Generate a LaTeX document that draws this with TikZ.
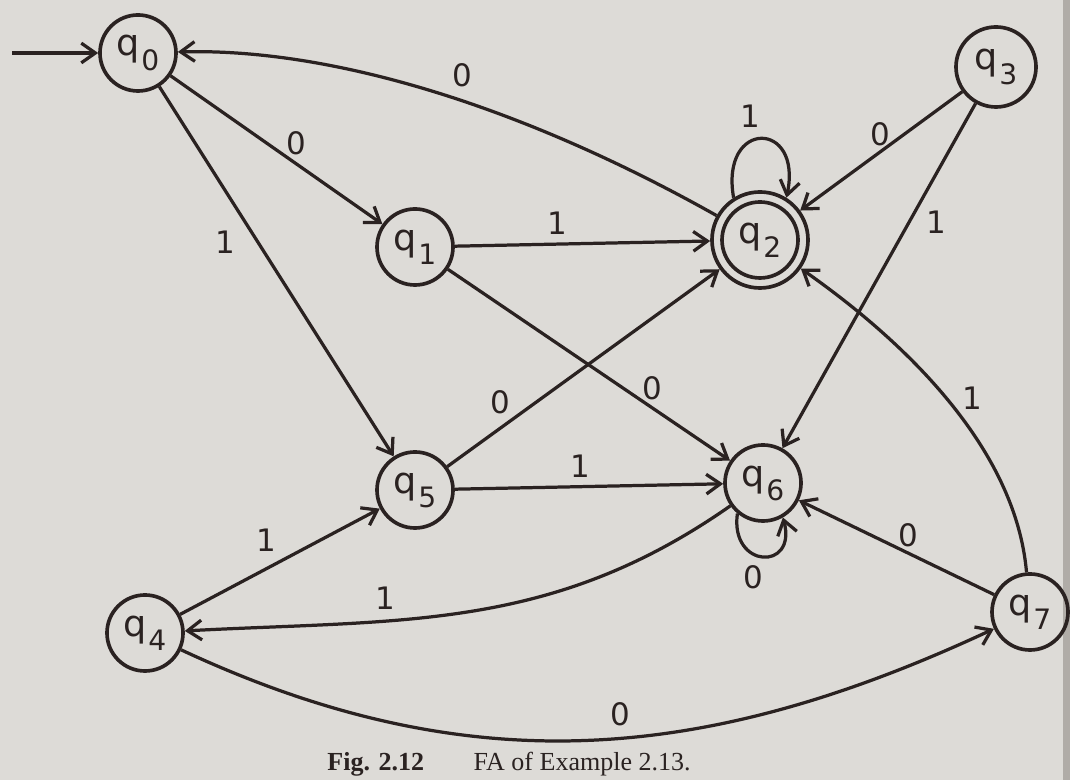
\documentclass[tikz,border=0pt]{standalone}
\usepackage{fontspec}
\setmainfont{Liberation Serif}
\newfontfamily\labfont{DejaVu Sans}
\usetikzlibrary{arrows.meta}
\definecolor{paper}{HTML}{DDDBD7}
\definecolor{ink}{HTML}{2A2221}
\definecolor{stripc}{HTML}{B0ACA7}
\newcommand{\stname}[1]{{\labfont\fontsize{26}{26}\selectfont q\kern1pt\raisebox{-10pt}{\fontsize{20}{20}\selectfont #1}}}
\begin{document}
\begin{tikzpicture}[x=0.025cm,y=0.025cm,
  st/.style={circle, draw=ink, line width=2.6pt, minimum size=1.9cm, inner sep=0pt, text=ink},
  lab/.style={font=\labfont\fontsize{22}{22}\selectfont, text=ink, inner sep=0pt},
  edge/.style={draw=ink, line width=2.3pt, -{Straight Barb[length=10pt,width=14pt]}}]
\fill[paper] (0,0) rectangle (1070,780);
\fill[stripc] (1063,0) rectangle (1070,780);
\useasboundingbox (0,0) rectangle (1070,780);
% states
\node[st] (q0) at (138,727) {\stname{0}};
\node[st] (q1) at (415,533) {\stname{1}};
\node[st, minimum size=2.4cm] (q2) at (760,540) {\stname{2}};
\draw[ink, line width=2.6pt] (q2.center) circle[radius=38];
\node[st, minimum size=2cm] (q3) at (996,713) {\stname{3}};
\node[st] (q4) at (145,147) {\stname{4}};
\node[st] (q5) at (415,290) {\stname{5}};
\node[st] (q6) at (763,297) {\stname{6}};
\node[st] (q7) at (1030,168) {\stname{7}};
% start
\coordinate (s) at (12,727);
\draw[edge] (s) -- (q0);
% transitions
\draw[edge] (q0) -- (q1) node[lab] at (296,637) {0};
\draw[edge] (q0) -- (q5) node[lab] at (225,538) {1};
\draw[edge] (q2) .. controls (520,675) and (330,732) .. (q0) node[lab] at (462,705) {0};
\draw[edge] (q2.122) .. controls +(100:80) and +(78:80) .. (q2.58) node[lab] at (750,664) {1};
\draw[edge] (q3) -- (q2) node[lab] at (880,646) {0};
\draw[edge] (q3) -- (q6) node[lab] at (936,558) {1};
\draw[edge] (q1) -- (q2) node[lab] at (557,557) {1};
\draw[edge] (q1) -- (q6) node[lab] at (652,392) {0};
\draw[edge] (q5) -- (q2) node[lab] at (500,378) {0};
\draw[edge] (q5) -- (q6) node[lab] at (580,314) {1};
\draw[edge] (q6.230) .. controls +(262:56) and +(285:56) .. (q6.300) node[lab] at (753,203) {0};
\draw[edge] (q7) -- (q6) node[lab] at (908,245) {0};
\draw[edge] (q7) to[out=95,in=-35,looseness=0.85] (q2) node[lab] at (972,382) {1};
\draw[edge] (q6) to[out=215,in=3] (q4) node[lab] at (385,182) {1};
\draw[edge] (q4) -- (q5) node[lab] at (266,240) {1};
\draw[edge] (q4) to[out=-25,in=205] (q7) node[lab] at (620,66) {0};
% caption
\node[anchor=base, text=ink, font=\fontsize{18.5}{18.5}\selectfont] (cap) at (509,9) {\textbf{Fig. 2.12}\hspace{1.9em}FA of Example 2.13.};
\end{tikzpicture}
\end{document}
